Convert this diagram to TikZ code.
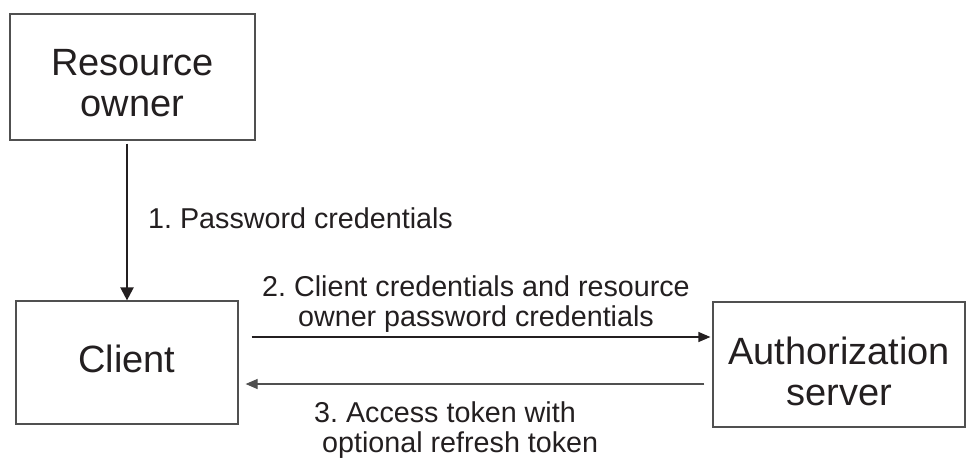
\documentclass[tikz,border=0pt]{standalone}
\usepackage{fontspec}
\setmainfont{Liberation Sans}
\usetikzlibrary{arrows.meta,calc}
\definecolor{ink}{HTML}{231F20}
\definecolor{edge}{HTML}{505050}
\frenchspacing
\begin{document}
\begin{tikzpicture}[x=1pt,y=-1pt,
  box/.style={draw=edge, line width=1.2pt, text=ink, align=center, inner sep=0pt,
    font=\fontsize{38}{41.5}\selectfont},
  lbl/.style={text=ink, inner sep=0pt, font=\frenchspacing\fontsize{28.7}{29.5}\selectfont},
  bigarrow/.style={draw=ink, line width=2.2pt, -{Triangle[length=13pt,width=13pt]}},
  smallarrow/.style={draw=ink, line width=1.2pt, -{Triangle[length=12pt,width=10pt]}}]
\useasboundingbox (0,0) rectangle (966,459);
\node[box, minimum width=245pt, minimum height=126pt] (ro) at (132.5,77)
  {\rule{0pt}{38pt}Resource\\owner};
\node[box, minimum width=222pt, minimum height=123pt] (client) at (127,362.5)
  {Client\rule[-6.8pt]{0pt}{0pt}};
\node[box, minimum width=252pt, minimum height=125pt] (auth) at (839,364.5)
  {\rule{0pt}{41pt}Authorization\\server};
\draw[bigarrow] ($(ro.south -| client.north)+(0,3)$) -- (client.north);
\draw[smallarrow] ($(client.east |- 0,337)+(13,0)$) -- ($(auth.west |- 0,337)+(-2,0)$);
\draw[smallarrow, draw=edge] ($(auth.west |- 0,384)+(-8,0)$) -- ($(client.east |- 0,384)+(7,0)$);
\node[lbl, anchor=base west] (l1) at (148,228) {1. Password credentials};
\node[lbl, align=center] (l2) at (476,304) {2. Client credentials and resource\\owner password credentials};
\node[lbl, align=left, anchor=west] (l3) at (314,430) {3. Access token with\\\hspace*{8pt}optional refresh token};
\end{tikzpicture}
\end{document}
